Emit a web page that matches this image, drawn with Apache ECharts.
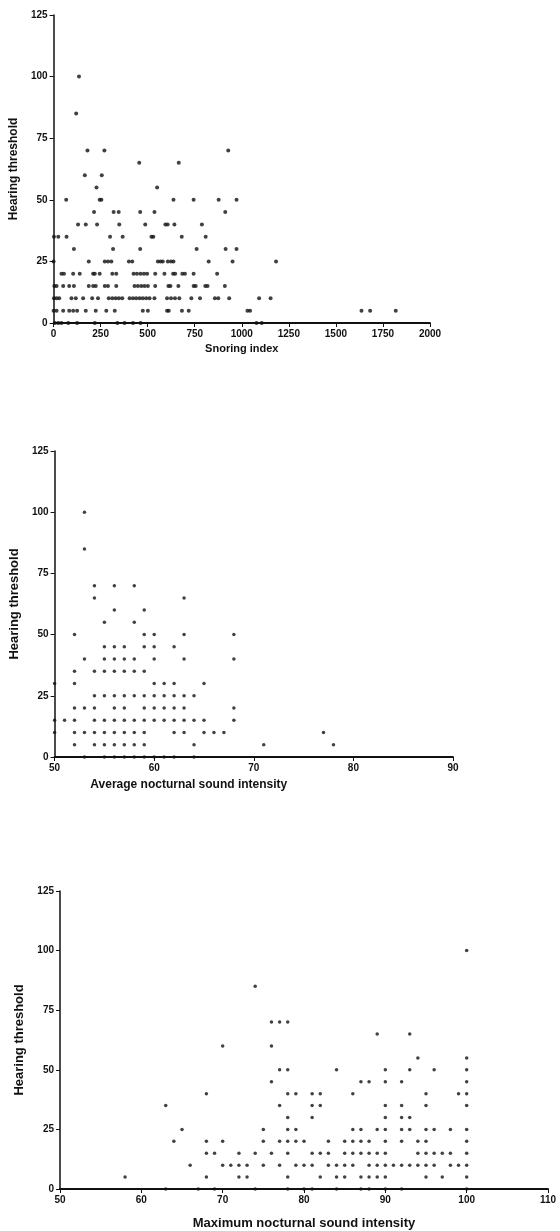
<!DOCTYPE html>
<html>
<head>
<meta charset="utf-8">
<script src="https://cdn.jsdelivr.net/npm/echarts@6/dist/echarts.min.js"></script>
<style>
  html, body { margin: 0; padding: 0; background: #fff; }
  #main { width: 560px; height: 1231px; }
</style>
</head>
<body>
<div id="main"></div>
<script>
const snoringLevels = [100, 85, 70, 65, 60, 55, 50, 45, 40, 35, 30, 25, 20, 15, 10, 5, 0]
const snoringIndex = [
  [135],
  [120],
  [180, 270, 928],
  [455, 665],
  [166, 256],
  [228, 550],
  [67, 245, 254, 637, 744, 877, 972],
  [215, 319, 346, 460, 536, 912],
  [130, 171, 231, 349, 487, 594, 606, 642, 788],
  [2, 25, 69, 300, 367, 520, 530, 681, 808],
  [108, 316, 460, 760, 914, 972],
  [0, 187, 272, 289, 307, 400, 418, 554, 568, 580, 607, 624, 637, 824, 951, 1182],
  [42, 55, 104, 139, 210, 219, 245, 312, 333, 425, 443, 462, 480, 497, 540, 589, 635, 646, 684, 698, 744, 869],
  [4, 16, 51, 83, 108, 187, 210, 224, 272, 289, 333, 430, 448, 466, 483, 501, 540, 610, 621, 663, 744, 755, 806, 818, 910],
  [2, 16, 30, 95, 118, 157, 205, 236, 293, 312, 330, 347, 365, 404, 422, 439, 457, 474, 492, 510, 536, 603, 624, 645, 668, 732, 778, 857, 875, 933, 1092, 1153],
  [0, 16, 51, 83, 104, 125, 171, 224, 280, 325, 474, 501, 603, 612, 682, 718, 1030, 1044, 1636, 1682, 1818],
  [7, 25, 42, 78, 125, 219, 339, 377, 422, 462, 1078, 1106]
]

const avgLevels = [100, 85, 70, 65, 60, 55, 50, 45, 40, 35, 30, 25, 20, 15, 10, 5, 0]
const avgIntensity = [
  [53],
  [53],
  [54, 56, 58],
  [54, 63],
  [56, 59],
  [55, 58],
  [52, 59, 60, 63, 68],
  [55, 56, 57, 59, 60, 62],
  [53, 55, 56, 57, 58, 60, 63, 68],
  [52, 54, 55, 56, 57, 58, 59],
  [50, 52, 60, 61, 62, 65],
  [54, 55, 56, 57, 58, 59, 60, 61, 62, 63, 64],
  [52, 53, 54, 56, 57, 59, 60, 61, 62, 63, 68],
  [50, 51, 52, 54, 55, 56, 57, 58, 59, 60, 61, 62, 63, 64, 65, 68],
  [50, 52, 53, 54, 55, 56, 57, 58, 59, 62, 63, 65, 66, 67, 77],
  [52, 54, 55, 56, 57, 58, 59, 64, 71, 78],
  [53, 55, 56, 57, 58, 59, 60, 61, 62, 64]
]

const maxLevels = [100, 85, 70, 65, 60, 55, 50, 45, 40, 35, 30, 25, 20, 15, 10, 5, 0]
const maxIntensity = [
  [100],
  [74],
  [76, 77, 78],
  [89, 93],
  [70, 76],
  [94, 100],
  [77, 78, 84, 90, 93, 96, 100],
  [76, 87, 88, 90, 92, 100],
  [68, 78, 79, 81, 82, 86, 95, 99, 100],
  [63, 77, 81, 82, 90, 92, 95, 100],
  [78, 81, 90, 92, 93],
  [65, 75, 78, 79, 86, 87, 89, 90, 92, 93, 95, 96, 98, 100],
  [64, 68, 70, 75, 77, 78, 79, 80, 83, 85, 86, 87, 88, 90, 92, 94, 95, 100],
  [68, 69, 72, 74, 76, 78, 81, 82, 83, 85, 86, 87, 88, 89, 90, 94, 95, 96, 97, 98, 100],
  [66, 70, 71, 72, 73, 75, 77, 79, 80, 81, 83, 84, 85, 86, 88, 89, 90, 91, 92, 93, 94, 95, 96, 98, 99, 100],
  [58, 68, 72, 73, 78, 82, 84, 85, 87, 88, 89, 90, 95, 97, 100],
  [63, 67, 69, 74, 78, 80, 81, 84, 87, 88, 90, 92, 100]
]

const thresholdTicks = [0, 25, 50, 75, 100, 125]

function toPoints(levels, rows) {
  let pts = []
  levels.forEach((y, i) => {
    rows[i].forEach(x => pts.push([x, y]))
  })
  return pts
}

const main = document.getElementById('main')
let myChart = echarts.init(main)

const ink = '#111'
const font = 'Liberation Sans, Arial, sans-serif'
const yNameGaps = [25, 23, 29]

function yAxisOf(grid) {
  return {
    gridIndex: grid,
    type: 'value',
    min: thresholdTicks[0],
    max: thresholdTicks[thresholdTicks.length - 1],
    interval: 25,
    name: 'Hearing threshold',
    nameLocation: 'middle',
    nameGap: yNameGaps[grid],
    nameTextStyle: { fontFamily: font, fontWeight: 'bold', fontSize: grid === 0 ? 12 : 13, color: ink },
    splitLine: { show: false },
    axisLine: { show: true, lineStyle: { color: ink, width: 1.5 } },
    axisTick: { show: true, length: 4, lineStyle: { color: ink, width: 1 } },
    axisLabel: { margin: 6, fontFamily: font, fontWeight: 'bold', fontSize: 10, color: ink }
  }
}

function xAxisOf(grid, min, max, interval, name, nameSize, nameGap, namePad) {
  return {
    gridIndex: grid,
    type: 'value',
    min: min,
    max: max,
    interval: interval,
    name: name,
    nameLocation: 'middle',
    nameGap: nameGap,
    nameTextStyle: { fontFamily: font, fontWeight: 'bold', fontSize: nameSize, color: ink, padding: namePad },
    splitLine: { show: false },
    axisLine: { show: true, onZero: false, lineStyle: { color: ink, width: 1.8 } },
    axisTick: { show: true, length: 4, lineStyle: { color: ink, width: 1 } },
    axisLabel: {
      margin: 6, fontFamily: font, fontWeight: 'bold', fontSize: 10, color: ink,
      formatter: v => String(v)
    }
  }
}

function seriesOf(idx, data, size) {
  return {
    type: 'scatter',
    xAxisIndex: idx,
    yAxisIndex: idx,
    data: data,
    symbol: 'circle',
    symbolSize: size,
    itemStyle: { color: ink },
    silent: true
  }
}

myChart.setOption({
  animation: false,
  backgroundColor: '#fff',
  grid: [
    { left: 52, top: 15, width: 378, height: 308 },
    { left: 53, top: 451, width: 400, height: 306 },
    { left: 60, top: 891, width: 488, height: 298 }
  ],
  xAxis: [
    xAxisOf(0, 0, 2000, 250, 'Snoring index', 11, 20, [0, 0, 0, 0]),
    xAxisOf(1, 50, 90, 10, 'Average nocturnal sound intensity', 12, 22, [0, 130, 0, 0]),
    xAxisOf(2, 50, 110, 10, 'Maximum nocturnal sound intensity', 13, 28, [0, 0, 0, 0])
  ],
  yAxis: [yAxisOf(0), yAxisOf(1), yAxisOf(2)],
  series: [
    seriesOf(0, toPoints(snoringLevels, snoringIndex), 4),
    seriesOf(1, toPoints(avgLevels, avgIntensity), 3.5),
    seriesOf(2, toPoints(maxLevels, maxIntensity), 3.5)
  ]
})
</script>
</body>
</html>
